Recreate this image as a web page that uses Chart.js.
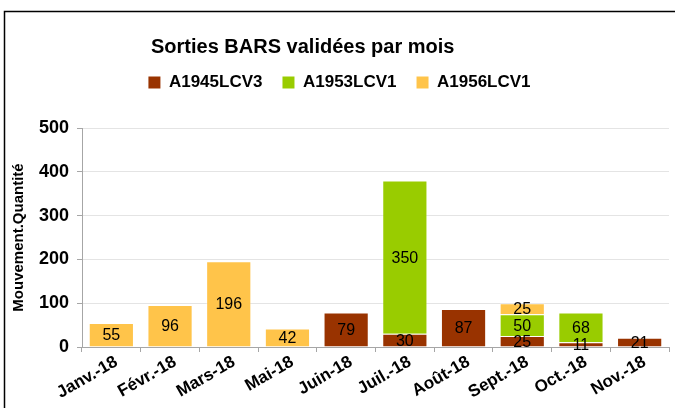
<!DOCTYPE html>
<html>
<head>
<meta charset="utf-8">
<script src="https://cdn.jsdelivr.net/npm/chart.js@4/dist/chart.umd.min.js"></script>
<style>
  html, body { margin: 0; padding: 0; background: #fff; }
  #wrap { position: relative; width: 675px; height: 408px; }
</style>
</head>
<body>
<div id="wrap"><canvas id="chart"></canvas></div>
<script>
const months = ['Janv.-18', 'Févr.-18', 'Mars-18', 'Mai-18', 'Juin-18', 'Juil.-18', 'Août-18', 'Sept.-18', 'Oct.-18', 'Nov.-18'];
const a1945 = [null, null, null, null, 79, 30, 87, 25, 11, 21];
const a1953 = [null, null, null, null, null, 350, null, 50, 68, null];
const a1956 = [55, 96, 196, 42, null, null, null, 25, null, null];
const yTicks = [0, 100, 200, 300, 400, 500];

const FONT = '"Liberation Sans", Arial, sans-serif';
Chart.defaults.font.family = FONT;
Chart.defaults.color = '#000';

// frame (top + left) and the title, which sits left of centre
const frameAndTitle = {
  id: 'frameAndTitle',
  beforeDraw(chart) {
    const { ctx } = chart;
    ctx.save();
    ctx.strokeStyle = '#000';
    ctx.lineWidth = 1.5;
    ctx.beginPath();
    ctx.moveTo(4.5, 408);
    ctx.lineTo(4.5, 11.5);
    ctx.lineTo(675, 11.5);
    ctx.stroke();
    ctx.fillStyle = '#000';
    ctx.font = 'bold 20px ' + FONT;
    ctx.textAlign = 'left';
    ctx.textBaseline = 'alphabetic';
    ctx.fillText('Sorties BARS validées par mois', 151, 53);
    ctx.restore();
  },
};

// extra room under the legend, and nudge it a bit right like the original
const legendTweak = {
  id: 'legendTweak',
  beforeInit(chart) {
    const legend = chart.legend;
    const fit = legend.fit;
    legend.fit = function () {
      fit.call(legend);
      this.height += 27;
    };
    const draw = legend.draw;
    legend.draw = function () {
      chart.ctx.save();
      chart.ctx.translate(3, 0);
      draw.call(legend);
      chart.ctx.restore();
    };
  },
};

const barValueLabels = {
  id: 'barValueLabels',
  afterDatasetsDraw(chart) {
    const { ctx } = chart;
    ctx.save();
    ctx.font = '16px ' + FONT;
    ctx.fillStyle = '#000';
    ctx.textAlign = 'center';
    ctx.textBaseline = 'middle';
    chart.data.datasets.forEach((ds, i) => {
      const meta = chart.getDatasetMeta(i);
      meta.data.forEach((bar, j) => {
        const v = ds.data[j];
        if (v == null) return;
        ctx.fillText(String(v), bar.x, (bar.y + bar.base) / 2 + 1);
      });
    });
    ctx.restore();
  },
};

const edge = 'rgba(255,255,255,0.3)';

new Chart(document.getElementById('chart'), {
  type: 'bar',
  data: {
    labels: months,
    datasets: [
      { label: 'A1945LCV3', data: a1945, backgroundColor: '#993300', borderColor: edge, borderWidth: 1 },
      { label: 'A1953LCV1', data: a1953, backgroundColor: '#99cc00', borderColor: edge, borderWidth: 1 },
      { label: 'A1956LCV1', data: a1956, backgroundColor: '#ffc44a', borderColor: edge, borderWidth: 1 },
    ],
  },
  options: {
    responsive: true,
    maintainAspectRatio: false,
    animation: false,
    categoryPercentage: 1,
    barPercentage: 0.77,
    layout: { padding: { top: 54, left: 4, right: 6, bottom: 0 } },
    scales: {
      x: {
        stacked: true,
        grid: { drawOnChartArea: false, tickLength: 5, tickColor: '#a6a6a6' },
        border: { color: '#a6a6a6' },
        ticks: {
          font: { size: 17, weight: 'bold' },
          minRotation: 30,
          maxRotation: 30,
          padding: 0,
          labelOffset: 5,
          autoSkip: false,
        },
        afterFit(scale) { scale.height = 61; },
      },
      y: {
        stacked: true,
        min: 0,
        max: 500,
        afterBuildTicks(scale) { scale.ticks = yTicks.map((v) => ({ value: v })); },
        grid: { color: '#e4e4e4', tickLength: 5, tickColor: '#a6a6a6' },
        border: { color: '#a6a6a6' },
        ticks: { font: { size: 18, weight: 'bold' }, padding: 8 },
        title: {
          display: true,
          text: 'Mouvement.Quantité',
          font: { size: 15, weight: 'bold' },
          padding: { top: 6, bottom: 4 },
        },
        afterFit(scale) { scale.width = 78; },
      },
    },
    plugins: {
      legend: {
        position: 'top',
        labels: {
          boxWidth: 12,
          boxHeight: 12,
          padding: 20,
          color: '#000',
          font: { size: 17, weight: 'bold' },
          generateLabels(chart) {
            return Chart.defaults.plugins.legend.labels.generateLabels(chart)
              .map((item) => ({ ...item, lineWidth: 0 }));
          },
        },
      },
      title: { display: false },
      tooltip: { enabled: false },
    },
  },
  plugins: [frameAndTitle, legendTweak, barValueLabels],
});
</script>
</body>
</html>
